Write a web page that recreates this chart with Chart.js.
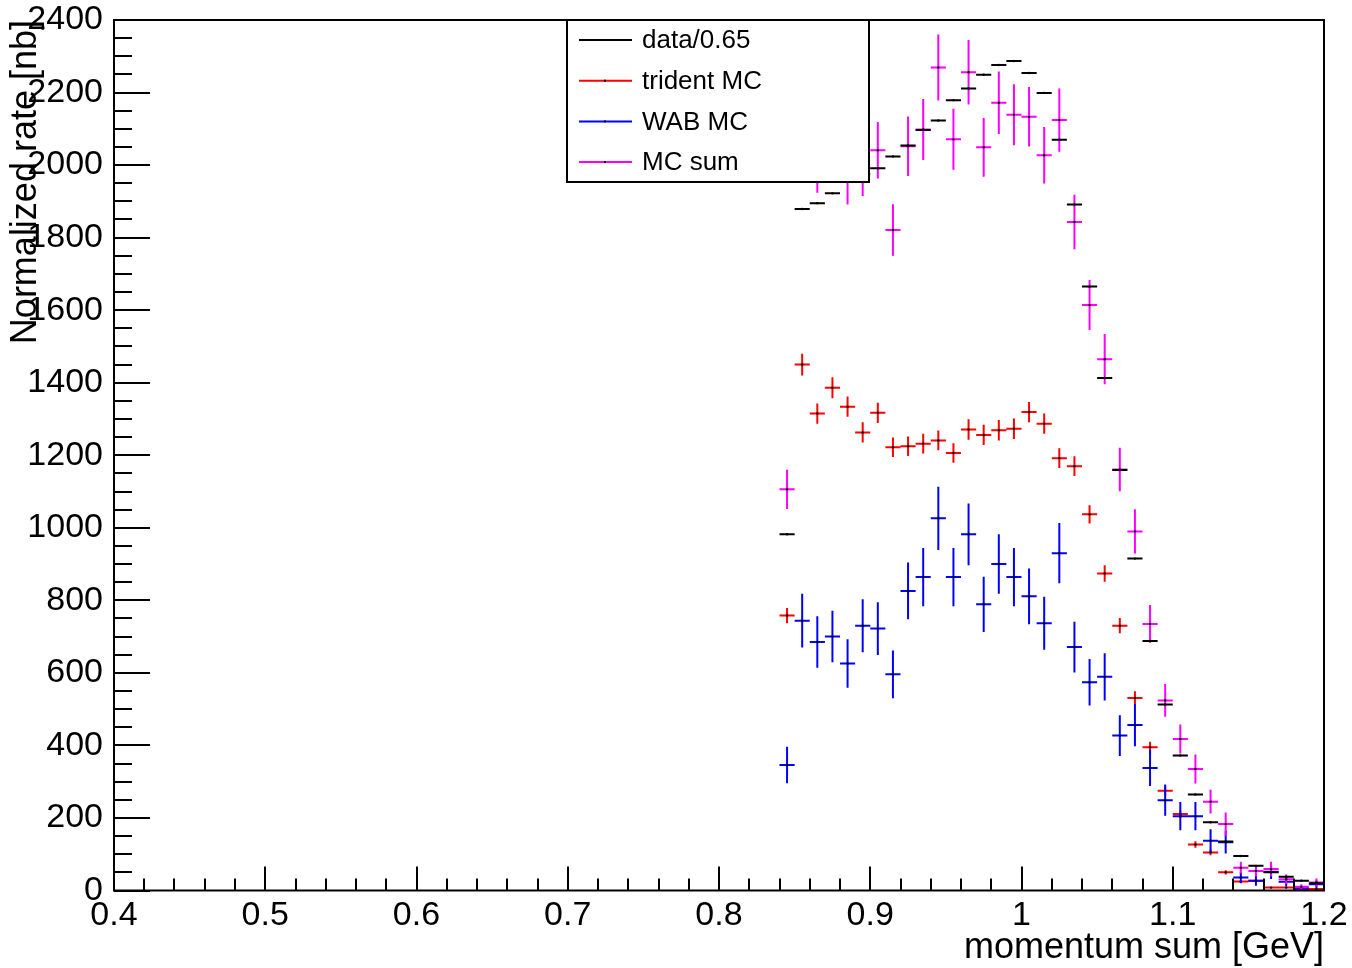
<!DOCTYPE html>
<html><head><meta charset="utf-8">
<script src="https://cdn.jsdelivr.net/npm/chart.js@4.4.0/dist/chart.umd.min.js"></script>
<style>html,body{margin:0;padding:0;background:#fff;}canvas{display:block;}</style>
</head><body>
<canvas id="c" width="1352" height="968"></canvas>
<script>
// ---- data ----
const binCenters = [0.845,0.855,0.865,0.875,0.885,0.895,0.905,0.915,0.925,0.935,0.945,0.955,0.965,0.975,0.985,0.995,1.005,1.015,1.025,1.035,1.045,1.055,1.065,1.075,1.085,1.095,1.105,1.115,1.125,1.135,1.145,1.155,1.165,1.175,1.185,1.195];
const binHalfWidth = 0.005;
const dataVals = [982,1879,1895,1922,1955,1975,1991,2024,2054,2097,2123,2179,2211,2249,2276,2287,2254,2199,2070,1891,1665,1413,1159,915,688,513,372,265,188,135,95,68,50,38,27,20];
const tridentVals = [758,1450,1315,1386,1334,1263,1317,1222,1225,1232,1241,1206,1271,1256,1269,1273,1319,1287,1192,1170,1037,874,730,531,395,275,211,127,105,50,25,27,8,8,4,4];
const tridentErr = [21,30,28,29,28,28,28,27,27,27,27,27,28,28,28,28,28,28,27,27,25,23,21,18,15,13,11,9,8,6,4,4,2,2,2,2];
const wabVals = [346,744,685,700,626,730,722,596,826,864,1026,864,982,789,900,864,811,737,930,671,574,589,427,456,338,249,205,205,137,133,36,27,52,24,6,17];
const wabErr = [50,74,71,71,67,73,73,66,78,80,87,80,85,76,82,80,77,73,83,70,64,65,56,58,50,43,39,39,32,31,16,14,20,13,7,11];
const sumVals = [1106,2195,2000,2086,1964,1993,2041,1821,2052,2098,2269,2071,2256,2049,2172,2139,2133,2027,2124,1843,1614,1465,1161,990,735,524,418,335,245,183,63,54,59,31,10,22];
const sumErr = [54,80,76,77,73,78,78,71,82,84,91,84,89,81,86,84,82,78,87,75,69,69,60,61,52,45,40,40,33,32,16,15,20,13,7,11];
const seriesLabels = ['data/0.65','trident MC','WAB MC','MC sum'];
const xTitle = 'momentum sum [GeV]';
const yTitle = 'Normalized rate [nb]';

const FONT = "'Liberation Sans', Arial, Helvetica, sans-serif";
function pts(vals){ return binCenters.map((x,i)=>({x:x, y:vals[i]})); }

const errorBars = {
  id:'errorBars',
  beforeDatasetDraw(chart, args){
    const ds = chart.data.datasets[args.index];
    const {ctx, chartArea:a, scales:{x, y}} = chart;
    ctx.save();
    ctx.beginPath(); ctx.rect(a.left, a.top, a.right-a.left, a.bottom-a.top); ctx.clip();
    ctx.strokeStyle = ds.borderColor; ctx.lineWidth = 2;
    ctx.beginPath();
    ds.data.forEach((p,i)=>{
      const px = x.getPixelForValue(p.x), py = y.getPixelForValue(p.y);
      ctx.moveTo(x.getPixelForValue(p.x-binHalfWidth), py);
      ctx.lineTo(x.getPixelForValue(p.x+binHalfWidth), py);
      if (ds.errors){
        const e = ds.errors[i];
        ctx.moveTo(px, y.getPixelForValue(p.y+e));
        ctx.lineTo(px, y.getPixelForValue(Math.max(0,p.y-e)));
      }
    });
    ctx.stroke();
    ctx.restore();
  }
};

const frameTicks = {
  id:'frameTicks',
  afterDatasetsDraw(chart){
    const {ctx, chartArea:a, scales:{x, y}} = chart;
    ctx.save();
    ctx.strokeStyle = '#000'; ctx.lineWidth = 2;
    ctx.strokeRect(a.left, a.top, a.right-a.left, a.bottom-a.top);
    ctx.beginPath();
    for (let k=0;;k++){
      const v = x.min + k*0.02; if (v > x.max + 1e-9) break;
      const major = (k % 5) === 0;
      const px = Math.round(x.getPixelForValue(v));
      ctx.moveTo(px, a.bottom); ctx.lineTo(px, a.bottom - (major ? 24 : 12));
    }
    for (let k=0;;k++){
      const v = y.min + k*50; if (v > y.max + 1e-9) break;
      const major = (k % 4) === 0;
      const py = Math.round(y.getPixelForValue(v));
      ctx.moveTo(a.left, py); ctx.lineTo(a.left + (major ? 36 : 18), py);
    }
    ctx.stroke();
    ctx.restore();
  },
  afterDraw(chart){
    // legend box
    const {ctx} = chart;
    const L = 567, T = 20, R = 869, B = 182;
    ctx.save();
    ctx.fillStyle = '#fff'; ctx.fillRect(L, T, R-L, B-T);
    ctx.strokeStyle = '#000'; ctx.lineWidth = 2; ctx.strokeRect(L, T, R-L, B-T);
    ctx.font = '26px ' + FONT; ctx.textBaseline = 'middle'; ctx.textAlign = 'left';
    chart.data.datasets.forEach((ds, i)=>{
      const cy = 40 + i*40.7;
      ctx.strokeStyle = ds.borderColor; ctx.lineWidth = 2;
      ctx.beginPath(); ctx.moveTo(579, cy); ctx.lineTo(632, cy); ctx.stroke();
      if (i > 0){ ctx.fillStyle = '#000'; ctx.fillRect(604, cy-1, 2, 2); }
      ctx.fillStyle = '#000'; ctx.fillText(ds.label, 642, cy+1);
    });
    ctx.restore();
  }
};

const tickFont = {family: FONT, size: 34, lineHeight: 1.0};
new Chart(document.getElementById('c'), {
  type: 'scatter',
  data: {
    datasets: [
      {label: seriesLabels[0], data: pts(dataVals), borderColor: '#000000', order: 0},
      {label: seriesLabels[1], data: pts(tridentVals), errors: tridentErr, borderColor: '#ff0000', order: 3},
      {label: seriesLabels[2], data: pts(wabVals), errors: wabErr, borderColor: '#0000ff', order: 2},
      {label: seriesLabels[3], data: pts(sumVals), errors: sumErr, borderColor: '#ff00ff', order: 1}
    ].map(d => Object.assign(d, {showLine:false, pointRadius:1.2, pointBackgroundColor:'#000', pointBorderWidth:0, pointHoverRadius:1.2}))
  },
  options: {
    responsive: false, devicePixelRatio: 1, animation: false, events: [],
    layout: {padding: {left: 0, right: 28, top: 20, bottom: 0}},
    plugins: {legend: {display: false}, tooltip: {enabled: false}},
    scales: {
      x: {
        type: 'linear', min: 0.4, max: 1.2,
        grid: {display: false, drawTicks: false}, border: {display: false},
        ticks: {stepSize: 0.1, padding: 8, color: '#000', font: tickFont, maxRotation: 0,
          callback: v => String(Math.round(v*10)/10)},
        title: {display: true, text: xTitle, align: 'end', color: '#000', font: {family: FONT, size: 36, lineHeight: 1.1}, padding: {top: 0, bottom: 0}},
        afterFit: s => { s.height = 77.5; s.paddingLeft = 0; s.paddingRight = 0; }
      },
      y: {
        type: 'linear', min: 0, max: 2400,
        grid: {display: false, drawTicks: false}, border: {display: false},
        ticks: {stepSize: 200, padding: 11, color: '#000', font: tickFont, callback: v => String(v)},
        title: {display: true, text: yTitle, align: 'end', color: '#000', font: {family: FONT, size: 36, lineHeight: 1.2}, padding: {top: 4, bottom: 0}},
        afterFit: s => { s.width = 114; s.paddingTop = 0; s.paddingBottom = 0; }
      }
    }
  },
  plugins: [errorBars, frameTicks]
});
</script>
</body></html>
